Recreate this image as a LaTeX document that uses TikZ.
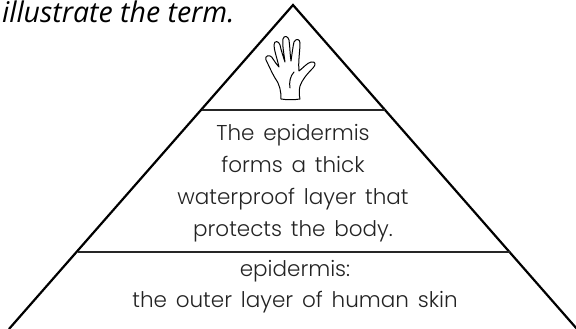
\documentclass[tikz,border=0pt]{standalone}
\usepackage{fontspec}
\setmainfont[WordSpace=1.5]{Poppins Light}
\newfontfamily\headfont{Open Sans}
\usetikzlibrary{positioning}
\definecolor{inktext}{RGB}{35, 35, 35}
\begin{document}
\begin{tikzpicture}[
        x=1pt, y=-1pt,
        every node/.style={text=inktext},
        edgeline/.style={draw=black, line width=2.2pt},
        band/.style={draw=black!85, line width=2.4pt},
        handline/.style={draw=black, line width=1pt, line join=round, line cap=round},
        label/.style={font=\fontsize{21.5}{32}\selectfont, align=center, inner sep=0pt}
      ]
        \useasboundingbox (0,0) rectangle (576,329);
        \coordinate (apex) at (293,5);
        \coordinate (baseL) at (9,329);
        \coordinate (baseR) at (577,329);
        \coordinate (bandAL) at (202,110);
        \coordinate (bandAR) at (385,110);
        \coordinate (bandBL) at (78,252);
        \coordinate (bandBR) at (510,252);

        \node[font=\headfont\itshape\fontsize{28.5}{32}\selectfont, anchor=west, inner sep=0pt, text=black] (prompt) at (2,12) {illustrate the term.};

        \draw[edgeline] (baseL)--(apex)--(baseR);
        \draw[band] (bandAL)--(bandAR);
        \draw[band] (bandBL)--(bandBR);

        \node[label] (sentence) at (293,183) {The epidermis\\forms a thick\\waterproof layer that\\protects the body.};
        \node[label, font=\fontsize{21.5}{31}\selectfont] (term) at (295,287) {epidermis:\\the outer layer of human skin};

        % hand
        \draw[handline] (281,99) .. controls (281,91) and (280,85) .. (275,78)
          .. controls (272,73) and (269,66) .. (266,60)
          .. controls (264,56) and (270,53) .. (273,59)
          .. controls (275,62) and (277,65) .. (279,67)
          .. controls (277,58) and (274,50) .. (274,45)
          .. controls (274,40) and (279,41) .. (280,45)
          .. controls (281,50) and (283,56) .. (285,62)
          .. controls (284,54) and (282,44) .. (283,39)
          .. controls (284,35) and (288,36) .. (289,40)
          .. controls (290,47) and (290,55) .. (291,61)
          .. controls (292,54) and (293,46) .. (294,42)
          .. controls (296,38) and (300,39) .. (300,43)
          .. controls (300,51) and (298,62) .. (299,71)
          .. controls (303,68) and (307,63) .. (311,62)
          .. controls (316,61) and (316,65) .. (313,68)
          .. controls (307,74) and (302,80) .. (300,86)
          .. controls (299,90) and (299,95) .. (300,99)
          .. controls (294,100) and (287,100) .. (281,99);
        \draw[handline] (290,88) .. controls (289,83) and (290,76) .. (294,72);
      \end{tikzpicture}
\end{document}
